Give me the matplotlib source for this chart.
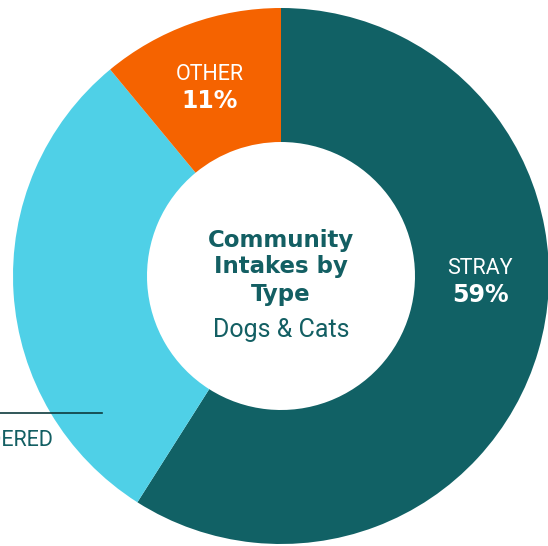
import matplotlib.pyplot as plt

labels = ["STRAY", "SURRENDERED", "OTHER"]
shares = [59, 30, 11]
colors = ["#116165", "#4fd0e7", "#f56300"]
pct_text = ["59%", "30%", "11%"]

teal = "#135f63"

fig = plt.figure(figsize=(5.48, 5.46), dpi=100)
ax = fig.add_axes([0, 0, 1, 1])

ax.pie(
    shares,
    colors=colors,
    startangle=90,
    counterclock=False,
    center=(281, 270),
    radius=268,
    wedgeprops=dict(width=134, linewidth=0),
)
# pie resets the limits, so set pixel-like limits afterwards
ax.set_xlim(0, 548)
ax.set_ylim(0, 546)
ax.set_aspect("equal")
ax.axis("off")

# slice labels
ax.text(480, 278, labels[0], ha="center", va="center", color="white",
        fontsize=15.5, family="Roboto")
ax.text(480, 251, pct_text[0], ha="center", va="center", color="white",
        fontsize=17, family="DejaVu Sans", fontweight="bold")
ax.text(210, 472, labels[2], ha="center", va="center", color="white",
        fontsize=15.5, family="Roboto")
ax.text(210, 445, pct_text[2], ha="center", va="center", color="white",
        fontsize=17, family="DejaVu Sans", fontweight="bold")

# surrendered callout (runs off the left edge)
ax.plot([-200, 102], [133, 133], color="#0d3b3d", linewidth=1.2, clip_on=False)
ax.text(53, 106, labels[1], ha="right", va="center", color=teal,
        fontsize=15.5, family="Roboto")

# centre title
for y, line in [(306, "Community"), (279, "Intakes by"), (252, "Type")]:
    ax.text(281, y, line, ha="center", va="center", color=teal,
            fontsize=16.5, family="DejaVu Sans", fontweight="bold")
ax.text(281, 216, "Dogs & Cats", ha="center", va="center", color=teal,
        fontsize=18, family="Roboto")

fig.savefig("out.png", dpi=100)
